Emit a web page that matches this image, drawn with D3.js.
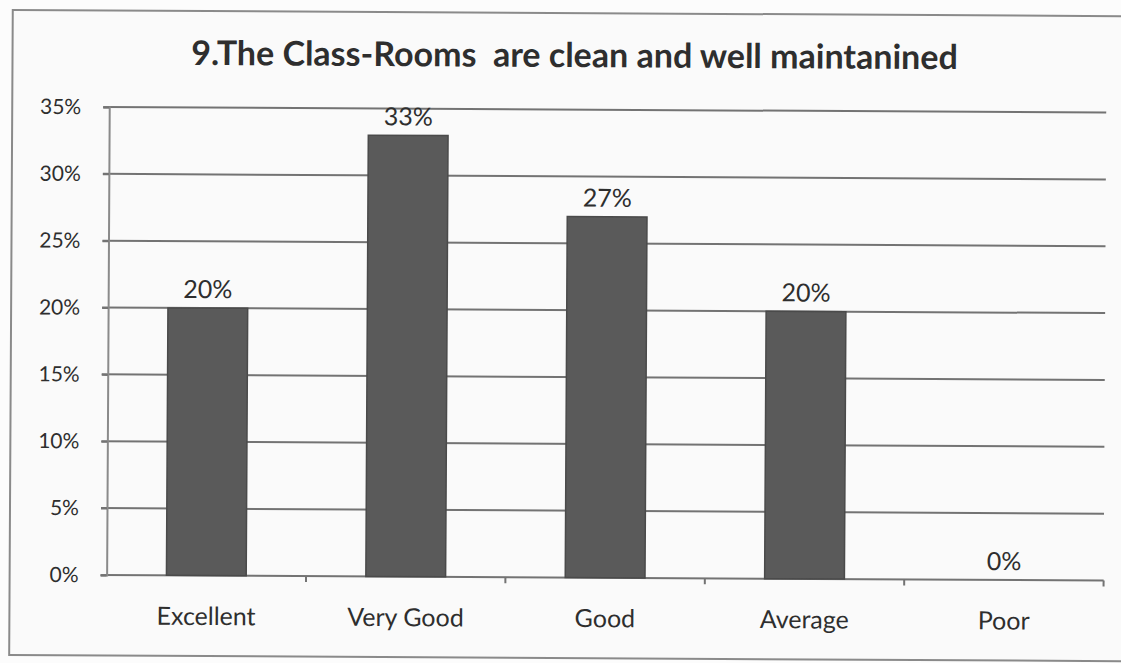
<!DOCTYPE html>
<html>
<head>
<meta charset="utf-8">
<script src="https://cdn.jsdelivr.net/npm/d3@7"></script>
<style>
  html, body { margin: 0; padding: 0; background: #fcfcfc; }
  svg { display: block; }
  text { font-family: Lato, "Open Sans", sans-serif; fill: #2e2e2e; white-space: pre; }
</style>
</head>
<body>
<svg id="chart" width="1121" height="663"></svg>
<script>
const categories = ["Excellent", "Very Good", "Good", "Average", "Poor"];
const values = [20, 33, 27, 20, 0];
const yTicks = [0, 5, 10, 15, 20, 25, 30, 35];
const title = "9.The Class-Rooms  are clean and well maintanined";

const svg = d3.select("#chart");
const W = 1121, H = 663;
const margin = { left: 108, right: 16, top: 109.5, bottom: 85.5 };

// the printed page sits very slightly askew
const page = svg.append("g").attr("transform", "rotate(0.32, 560, 330)");

// chart frame
page.append("rect")
  .attr("x", 11).attr("y", 13).attr("width", 1118).attr("height", 645)
  .attr("fill", "#fafafa").attr("stroke", "#8a8a8a").attr("stroke-width", 2);

const x = d3.scaleBand()
  .domain(categories)
  .range([margin.left, W - margin.right])
  .paddingInner(0.6).paddingOuter(0.3);

const xAxisScale = d3.scaleBand()
  .domain(categories)
  .range([margin.left, W - margin.right]);

const y = d3.scaleLinear()
  .domain([0, 35])
  .range([H - margin.bottom, margin.top]);

// horizontal gridlines
page.append("g")
  .selectAll("line")
  .data(yTicks)
  .join("line")
  .attr("x1", margin.left - 6).attr("x2", W - margin.right)
  .attr("y1", d => y(d)).attr("y2", d => y(d))
  .attr("stroke", "#737373").attr("stroke-width", 2);

// y axis
const yAxis = page.append("g")
  .attr("transform", `translate(${margin.left},0)`)
  .call(d3.axisLeft(y).tickValues(yTicks).tickFormat(d => d + "%").tickSize(6).tickPadding(22));
yAxis.select(".domain").attr("stroke", "#8a8a8a").attr("stroke-width", 2);
yAxis.selectAll(".tick line").attr("stroke", "#737373").attr("stroke-width", 2);
yAxis.selectAll(".tick text")
  .attr("font-size", 21).attr("font-family", "Lato, sans-serif").attr("fill", "#333");

// x axis ticks at category boundaries
const boundaries = categories.map(c => xAxisScale(c)).concat([W - margin.right]);
page.append("g")
  .selectAll("line")
  .data(boundaries.slice(1))
  .join("line")
  .attr("x1", d => d).attr("x2", d => d)
  .attr("y1", y(0)).attr("y2", y(0) + 6)
  .attr("stroke", "#737373").attr("stroke-width", 2);

// bars
page.append("g")
  .selectAll("rect")
  .data(values)
  .join("rect")
  .attr("x", (d, i) => x(categories[i]))
  .attr("width", x.bandwidth())
  .attr("y", d => y(d))
  .attr("height", d => y(0) - y(d))
  .attr("fill", "#5a5a5a")
  .attr("stroke", "#4a4a4a").attr("stroke-width", 1.5);

// value labels
page.append("g")
  .selectAll("text")
  .data(values)
  .join("text")
  .attr("x", (d, i) => x(categories[i]) + x.bandwidth() / 2)
  .attr("y", d => y(d) - 10)
  .attr("text-anchor", "middle")
  .attr("font-size", 25)
  .text(d => d + "%");

// category labels
page.append("g")
  .selectAll("text")
  .data(categories)
  .join("text")
  .attr("x", d => x(d) + x.bandwidth() / 2)
  .attr("y", 627)
  .attr("text-anchor", "middle")
  .attr("font-size", 25)
  .text(d => d);

// title
page.append("text")
  .attr("x", 573).attr("y", 67)
  .attr("text-anchor", "middle")
  .attr("font-size", 34).attr("font-weight", "bold")
  .attr("fill", "#222")
  .text(title);
</script>
</body>
</html>
